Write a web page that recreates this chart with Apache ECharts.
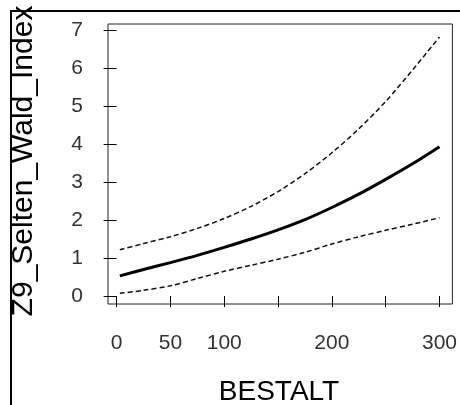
<!DOCTYPE html>
<html><head><meta charset="utf-8">
<script src="https://cdn.jsdelivr.net/npm/echarts@6/dist/echarts.min.js"></script>
<style>html,body{margin:0;padding:0;background:#fff}#c{width:460px;height:405px}</style>
</head><body><div id="c"></div>
<script>
const bestalt = [3,25,50,75,100,125,150,175,200,225,250,275,300];
const fitValues = [0.53,0.70,0.88,1.07,1.28,1.50,1.74,2.01,2.33,2.68,3.07,3.48,3.93];
const upperValues = [1.22,1.38,1.56,1.78,2.04,2.36,2.75,3.22,3.77,4.40,5.12,5.95,6.82];
const lowerValues = [0.07,0.15,0.27,0.46,0.65,0.81,0.97,1.15,1.37,1.56,1.73,1.89,2.06];
const xTicks = [0,50,100,150,200,250,300];
const xTickLabels = [0,50,100,200,300];
const yTicks = [0,1,2,3,4,5,6,7];
const xTitle = 'BESTALT';
const yTitle = 'Z9_Selten_Wald_Index';

const FONT = '"Liberation Sans", Arial, sans-serif';
const pairs = v => bestalt.map((x, i) => [x, v[i]]);
const chart = echarts.init(document.getElementById('c'), null, {renderer: 'canvas'});
chart.setOption({
  animation: false,
  backgroundColor: '#fff',
  grid: {left: 108, top: 24, right: 7, bottom: 101, show: true, borderColor: '#222', borderWidth: 1, backgroundColor: 'transparent'},
  xAxis: {
    type: 'value', min: -8, max: 312, offset: 3,
    axisLine: {show: false},
    axisTick: {show: true, length: 11, lineStyle: {color: '#000'}, customValues: xTicks},
    axisLabel: {customValues: xTickLabels, margin: 26, fontSize: 21, color: '#333', fontFamily: FONT},
    splitLine: {show: false}
  },
  yAxis: {
    type: 'value', min: -0.21, max: 7.16,
    axisLine: {show: false},
    axisTick: {show: true, length: 13, lineStyle: {color: '#000'}, customValues: yTicks},
    axisLabel: {customValues: yTicks, margin: 25, fontSize: 21, color: '#333', fontFamily: FONT},
    splitLine: {show: false}
  },
  series: [
    {type: 'line', data: pairs(upperValues), showSymbol: false, smooth: 0.3, lineStyle: {color: '#111', width: 1.5, type: [5, 3]}},
    {type: 'line', data: pairs(lowerValues), showSymbol: false, smooth: 0.3, lineStyle: {color: '#111', width: 1.5, type: [5, 3]}},
    {type: 'line', data: pairs(fitValues), showSymbol: false, smooth: 0.3, lineStyle: {color: '#000', width: 3}}
  ],
  graphic: [
    {type: 'line', shape: {x1: 10, y1: 11, x2: 460, y2: 11}, style: {stroke: '#000', lineWidth: 2}},
    {type: 'line', shape: {x1: 11, y1: 10, x2: 11, y2: 405}, style: {stroke: '#000', lineWidth: 2}},
    {type: 'text', x: 279, y: 392, style: {text: xTitle, font: '28px ' + FONT, fill: '#000', textAlign: 'center', textVerticalAlign: 'middle'}},
    {type: 'text', x: 24, y: 161, rotation: Math.PI / 2, style: {text: yTitle, font: '30px ' + FONT, fill: '#000', textAlign: 'center', textVerticalAlign: 'middle'}}
  ]
});
</script></body></html>
